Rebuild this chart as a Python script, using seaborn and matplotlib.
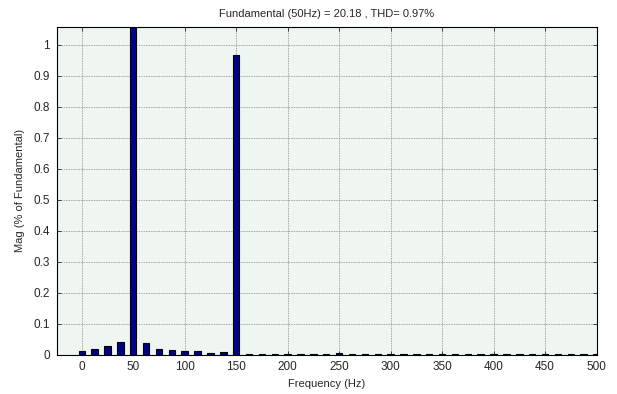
import numpy as np
import pandas as pd
import matplotlib
matplotlib.use("Agg")
import matplotlib.pyplot as plt
import seaborn as sns

# Data
freqs = [0, 12.5, 25, 37.5, 50, 62.5, 75, 87.5, 100, 112.5, 125, 137.5, 150,
         162.5, 175, 187.5, 200, 212.5, 225, 237.5, 250, 262.5, 275, 287.5, 300,
         312.5, 325, 337.5, 350, 362.5, 375, 387.5, 400, 412.5, 425, 437.5, 450,
         462.5, 475, 487.5, 500]
mags = [0.011, 0.019, 0.026, 0.041, 1.06, 0.038, 0.019, 0.013, 0.011, 0.010, 0.0065, 0.0075, 0.966,
        0.003, 0.003, 0.003, 0.003, 0.003, 0.003, 0.003, 0.006, 0.003, 0.003, 0.003, 0.003,
        0.003, 0.003, 0.003, 0.003, 0.003, 0.003, 0.003, 0.003, 0.003, 0.003, 0.003, 0.003,
        0.003, 0.003, 0.003, 0.003]
xticks = [0, 50, 100, 150, 200, 250, 300, 350, 400, 450, 500]
yticks = [0, 0.1, 0.2, 0.3, 0.4, 0.5, 0.6, 0.7, 0.8, 0.9, 1]
ytick_labels = ["0", "0.1", "0.2", "0.3", "0.4", "0.5", "0.6", "0.7", "0.8", "0.9", "1"]
title = "Fundamental (50Hz) = 20.18 , THD= 0.97%"

df = pd.DataFrame({"f": freqs, "m": mags})

sns.set_style("ticks")
plt.rcParams['font.family'] = ['Liberation Sans', 'DejaVu Sans']

fig = plt.figure(figsize=(6.17, 3.94), dpi=100)
ax = fig.add_axes([0.0924, 0.1002, 0.8744, 0.832])
ax.set_facecolor("#eff5f0")

sns.barplot(data=df, x="f", y="m", native_scale=True, width=0.5,
            color="#00008b", edgecolor="black", linewidth=0.8, saturation=1, ax=ax)

ax.set_xlim(-24, 500)
ax.set_ylim(0, 1.058)
ax.set_xticks(xticks)
ax.set_xticklabels([str(t) for t in xticks])
ax.set_yticks(yticks)
ax.set_yticklabels(ytick_labels)
ax.grid(True, linestyle=(0, (1, 1)), color="#8a8a8a", linewidth=0.6)
ax.set_axisbelow(True)
ax.tick_params(direction="in", top=True, right=True, labelsize=8.5, length=3, width=0.6, pad=5)
for s in ax.spines.values():
    s.set_visible(True)
    s.set_linewidth(0.8)
    s.set_color("black")
ax.set_xlabel("Frequency (Hz)", fontsize=8, labelpad=4)
ax.set_ylabel("Mag (% of Fundamental)", fontsize=8, labelpad=6)
ax.set_title(title, fontsize=8, pad=7)

fig.savefig("out.png", dpi=100)
